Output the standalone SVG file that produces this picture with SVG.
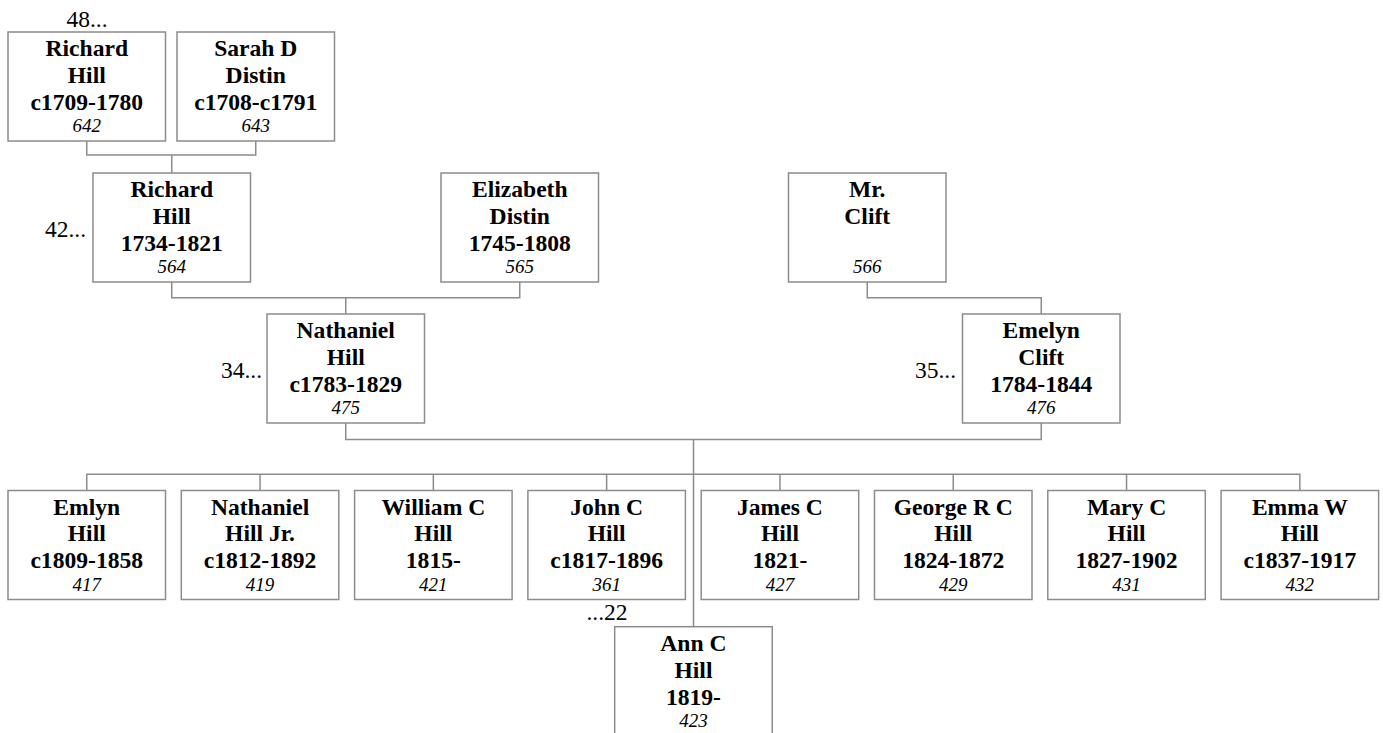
<svg xmlns="http://www.w3.org/2000/svg" width="1383" height="733" viewBox="0 0 1383 733">
<style>
.box{fill:#fff;stroke:#8c8c8c;stroke-width:1.5}
.n{font-family:"Liberation Serif","Times New Roman",serif;font-weight:bold;font-size:23.6px;text-anchor:middle;fill:#000}
.id{font-family:"Liberation Serif","Times New Roman",serif;font-style:italic;font-size:19px;text-anchor:middle;fill:#000}
.lb{font-family:"Liberation Serif","Times New Roman",serif;font-size:23.5px;fill:#000}
.c{fill:none;stroke:#8c8c8c;stroke-width:1.5}
</style>
<rect width="1383" height="733" fill="#fff"/>
<g id="connectors" class="c">
<path d="M86.75 141V155H255.75V141M171.75 155V173"/>
<path d="M171.75 282V297.7H519.75V282M345.75 297.7V314"/>
<path d="M867.25 282V297.7H1041.25V314"/>
<path d="M345.75 423V439.5H1041.25V423M693.5 439.5V626.7"/>
<path d="M86.75 490.5V474.3H1299.85V490.5M260.05 474.3V490.5M433.35 474.3V490.5M606.65 474.3V490.5M779.95 474.3V490.5M953.25 474.3V490.5M1126.55 474.3V490.5"/>
</g>
<g id="labels">
<text class="lb" x="87" y="27" text-anchor="middle">48...</text>
<text class="lb" x="86" y="236.7" text-anchor="end">42...</text>
<text class="lb" x="262" y="377.7" text-anchor="end">34...</text>
<text class="lb" x="956" y="378.3" text-anchor="end">35...</text>
<text class="lb" x="607" y="620" text-anchor="middle">...22</text>
</g>
<g id="p642"><rect class="box" x="8" y="32" width="157.5" height="109"/><text class="n" x="86.75" y="56">Richard</text><text class="n" x="86.75" y="82.5">Hill</text><text class="n" x="86.75" y="109.5">c1709-1780</text><text class="id" x="86.75" y="132">642</text></g>
<g id="p643"><rect class="box" x="177" y="32" width="157.5" height="109"/><text class="n" x="255.75" y="56">Sarah D</text><text class="n" x="255.75" y="82.5">Distin</text><text class="n" x="255.75" y="109.5">c1708-c1791</text><text class="id" x="255.75" y="132">643</text></g>
<g id="p564"><rect class="box" x="93" y="173" width="157.5" height="109"/><text class="n" x="171.75" y="197">Richard</text><text class="n" x="171.75" y="223.5">Hill</text><text class="n" x="171.75" y="250.5">1734-1821</text><text class="id" x="171.75" y="273">564</text></g>
<g id="p565"><rect class="box" x="441" y="173" width="157.5" height="109"/><text class="n" x="519.75" y="197">Elizabeth</text><text class="n" x="519.75" y="223.5">Distin</text><text class="n" x="519.75" y="250.5">1745-1808</text><text class="id" x="519.75" y="273">565</text></g>
<g id="p566"><rect class="box" x="788.5" y="173" width="157.5" height="109"/><text class="n" x="867.25" y="197">Mr.</text><text class="n" x="867.25" y="223.5">Clift</text><text class="id" x="867.25" y="273">566</text></g>
<g id="p475"><rect class="box" x="267" y="314" width="157.5" height="109"/><text class="n" x="345.75" y="338">Nathaniel</text><text class="n" x="345.75" y="364.5">Hill</text><text class="n" x="345.75" y="391.5">c1783-1829</text><text class="id" x="345.75" y="414">475</text></g>
<g id="p476"><rect class="box" x="962.5" y="314" width="157.5" height="109"/><text class="n" x="1041.25" y="338">Emelyn</text><text class="n" x="1041.25" y="364.5">Clift</text><text class="n" x="1041.25" y="391.5">1784-1844</text><text class="id" x="1041.25" y="414">476</text></g>
<g id="p417"><rect class="box" x="8" y="490.5" width="157.5" height="109"/><text class="n" x="86.75" y="514.5">Emlyn</text><text class="n" x="86.75" y="541">Hill</text><text class="n" x="86.75" y="568">c1809-1858</text><text class="id" x="86.75" y="590.5">417</text></g>
<g id="p419"><rect class="box" x="181.3" y="490.5" width="157.5" height="109"/><text class="n" x="260.05" y="514.5">Nathaniel</text><text class="n" x="260.05" y="541">Hill Jr.</text><text class="n" x="260.05" y="568">c1812-1892</text><text class="id" x="260.05" y="590.5">419</text></g>
<g id="p421"><rect class="box" x="354.6" y="490.5" width="157.5" height="109"/><text class="n" x="433.35" y="514.5">William C</text><text class="n" x="433.35" y="541">Hill</text><text class="n" x="433.35" y="568">1815-</text><text class="id" x="433.35" y="590.5">421</text></g>
<g id="p361"><rect class="box" x="527.9" y="490.5" width="157.5" height="109"/><text class="n" x="606.65" y="514.5">John C</text><text class="n" x="606.65" y="541">Hill</text><text class="n" x="606.65" y="568">c1817-1896</text><text class="id" x="606.65" y="590.5">361</text></g>
<g id="p427"><rect class="box" x="701.2" y="490.5" width="157.5" height="109"/><text class="n" x="779.95" y="514.5">James C</text><text class="n" x="779.95" y="541">Hill</text><text class="n" x="779.95" y="568">1821-</text><text class="id" x="779.95" y="590.5">427</text></g>
<g id="p429"><rect class="box" x="874.5" y="490.5" width="157.5" height="109"/><text class="n" x="953.25" y="514.5">George R C</text><text class="n" x="953.25" y="541">Hill</text><text class="n" x="953.25" y="568">1824-1872</text><text class="id" x="953.25" y="590.5">429</text></g>
<g id="p431"><rect class="box" x="1047.8" y="490.5" width="157.5" height="109"/><text class="n" x="1126.55" y="514.5">Mary C</text><text class="n" x="1126.55" y="541">Hill</text><text class="n" x="1126.55" y="568">1827-1902</text><text class="id" x="1126.55" y="590.5">431</text></g>
<g id="p432"><rect class="box" x="1221.1" y="490.5" width="157.5" height="109"/><text class="n" x="1299.85" y="514.5">Emma W</text><text class="n" x="1299.85" y="541">Hill</text><text class="n" x="1299.85" y="568">c1837-1917</text><text class="id" x="1299.85" y="590.5">432</text></g>
<g id="p423"><rect class="box" x="614.7" y="626.7" width="157.5" height="109"/><text class="n" x="693.45" y="651">Ann C</text><text class="n" x="693.45" y="677.5">Hill</text><text class="n" x="693.45" y="704.5">1819-</text><text class="id" x="693.45" y="727">423</text></g>
</svg>
